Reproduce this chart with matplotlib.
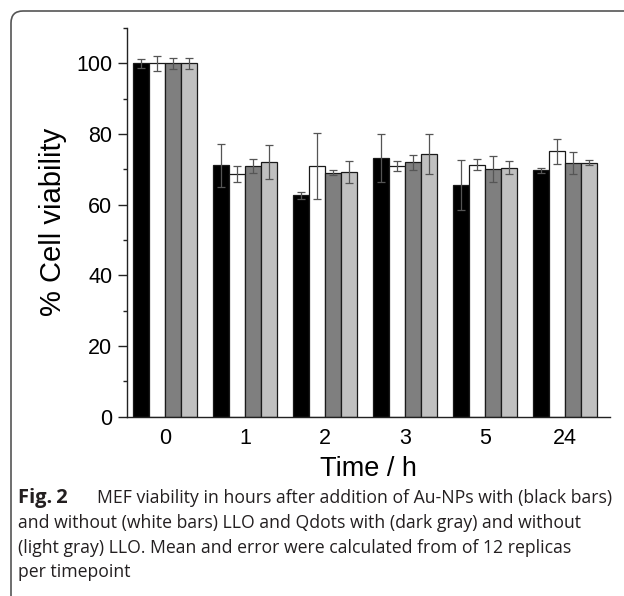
import numpy as np
import matplotlib
matplotlib.use("Agg")
import matplotlib.pyplot as plt
from matplotlib.patches import FancyBboxPatch
from matplotlib.ticker import MultipleLocator

# cell viability (%) per timepoint
times = ["0", "1", "2", "3", "5", "24"]
au_llo = [100, 71.2, 62.6, 73.1, 65.6, 69.7]        # black bars
au_no_llo = [100, 68.7, 70.9, 71.0, 71.3, 75.1]     # white bars
qd_llo = [100, 70.9, 69.1, 72.0, 70.2, 71.8]        # dark gray
qd_no_llo = [100, 72.0, 69.2, 74.3, 70.5, 71.9]     # light gray

au_llo_err = [1.2, 6.1, 1.1, 6.8, 7.1, 0.8]
au_no_llo_err = [2.1, 2.3, 9.3, 1.5, 1.5, 3.5]
qd_llo_err = [1.5, 1.9, 0.6, 2.1, 3.7, 3.0]
qd_no_llo_err = [1.5, 4.8, 3.2, 5.6, 1.9, 0.8]

series = [au_llo, au_no_llo, qd_llo, qd_no_llo]
errors = [au_llo_err, au_no_llo_err, qd_llo_err, qd_no_llo_err]
colors = ["#000000", "#ffffff", "#7f7f7f", "#c0c0c0"]

W, H = 624, 596
fig = plt.figure(figsize=(W / 100, H / 100), dpi=100)
ax = fig.add_axes([127 / W, (H - 416.7) / H, (610 - 127) / W, (416.7 - 28) / H])

x = np.arange(len(times))
bw = 0.2
for i in range(4):
    ax.bar(x + (i - 1.5) * bw, series[i], width=bw, color=colors[i],
           edgecolor="#1a1a1a", linewidth=0.9, zorder=2)
    ax.errorbar(x + (i - 1.5) * bw, series[i], yerr=errors[i], fmt="none",
                ecolor="#555555", elinewidth=0.9, capsize=3.2, capthick=0.9, zorder=3)

ax.set_xlim(-0.475, 5.5625)
ax.set_ylim(0, 110)
ax.set_xticks(x)
ax.set_xticklabels(times)
ax.yaxis.set_major_locator(MultipleLocator(20))
ax.yaxis.set_minor_locator(MultipleLocator(10))
ax.set_yticks(range(0, 101, 20))

for s in ["top", "right"]:
    ax.spines[s].set_visible(False)
for s in ["left", "bottom"]:
    ax.spines[s].set_linewidth(1.0)
    ax.spines[s].set_color("#222222")

fnt = "Liberation Sans"
ax.tick_params(axis="x", length=0, pad=8, labelsize=15.5, labelfontfamily=fnt)
ax.tick_params(axis="y", which="major", length=6.5, width=1.0, color="#222222",
               pad=4, labelsize=15.5, labelfontfamily=fnt)
ax.tick_params(axis="y", which="minor", length=3.2, width=1.0, color="#222222")

ax.set_xlabel("Time / h", fontsize=19.5, family=fnt, labelpad=5)
ax.set_ylabel("% Cell viability", fontsize=21, family=fnt, labelpad=7)

# rounded frame around figure
frame = FancyBboxPatch((0.11, -0.5), 7.0, (H - 11) / 100 + 0.5,
                       boxstyle="round,pad=0,rounding_size=0.12",
                       transform=fig.dpi_scale_trans, facecolor="none",
                       edgecolor="#555555", linewidth=1.2, clip_on=False)
fig.patches.append(frame)

cap_font = "Open Sans"
cs = 12.7
fig.text(18 / W, 1 - 498 / H, "Fig.\u20092", fontsize=14.5, family=["Open Sans", "DejaVu Sans"],
         fontweight="bold", va="center", color="#231f20")
fig.text(97 / W, 1 - 498 / H,
         "MEF viability in hours after addition of Au-NPs with (black bars)",
         fontsize=cs, family=cap_font, va="center", color="#231f20")
lines = ["and without (white bars) LLO and Qdots with (dark gray) and without",
         "(light gray) LLO. Mean and error were calculated from of 12 replicas",
         "per timepoint"]
for k, ln in enumerate(lines):
    fig.text(18 / W, 1 - (523 + k * 24.7) / H, ln, fontsize=cs,
             family=cap_font, va="center", color="#231f20")

fig.savefig("out.png", dpi=100)
